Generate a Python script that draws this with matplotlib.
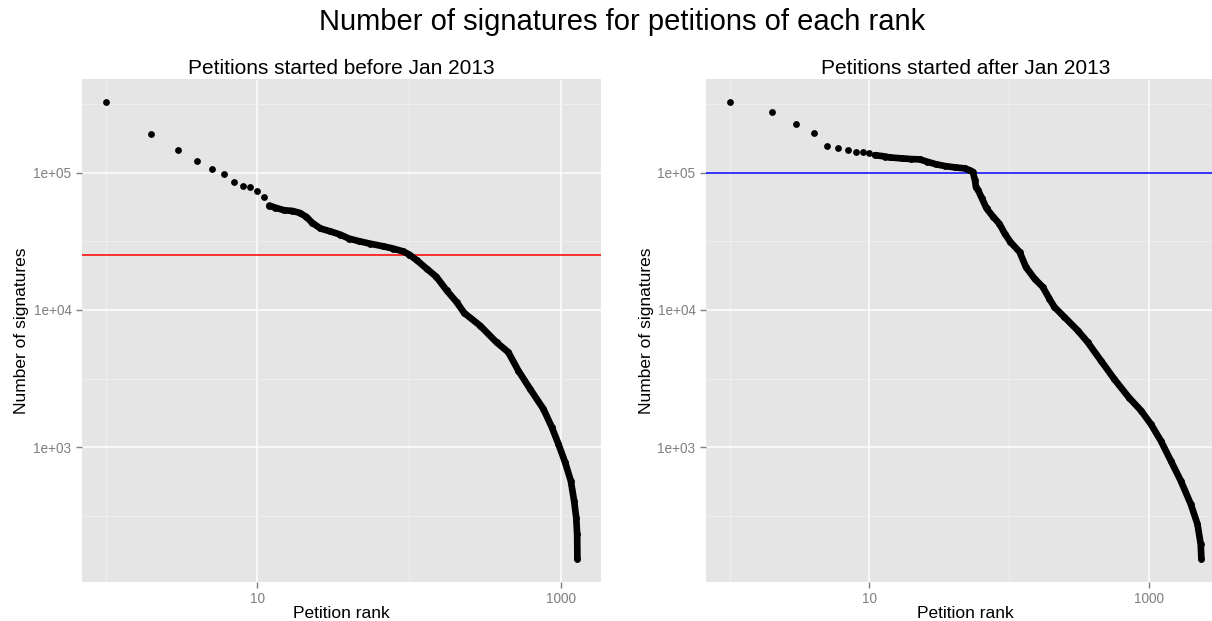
import numpy as np
import matplotlib
matplotlib.use("Agg")
import matplotlib.pyplot as plt
from matplotlib.ticker import FixedLocator, FixedFormatter, NullFormatter

plt.rcParams['font.family'] = ['Liberation Sans', 'DejaVu Sans']

# ---------------- data ----------------
main_title = "Number of signatures for petitions of each rank"
left_title = "Petitions started before Jan 2013"
right_title = "Petitions started after Jan 2013"
x_label = "Petition rank"
y_label = "Number of signatures"

left_rank = [1, 2, 3, 4, 5, 6, 7, 8, 9, 10, 11,
             12, 13, 15, 17, 19, 21, 23, 26, 30, 35, 40, 47, 55, 67, 78, 91,
             100, 112, 130, 151, 176, 205, 230, 292, 376, 449, 522, 624, 764,
             868, 960, 1063, 1158, 1218, 1257, 1275, 1280]
left_sig = [325000, 191000, 146000, 121000, 106000, 98000, 85000, 80000, 78000, 73000, 66000,
            57600, 55700, 53200, 52600, 50900, 47600, 43000, 39200, 37400, 35400, 33100,
            31600, 30400, 29100, 28000, 26700, 25300, 23000, 20000, 17400, 13900, 11400,
            9500, 7700, 5800, 4920, 3620, 2660, 1900, 1400, 1055, 774, 569, 406, 307, 232, 153]
left_threshold = 25000

right_rank = [1, 2, 3, 4, 5, 6, 7, 8, 9, 10,
              11, 13, 14, 17, 20, 23, 26, 30, 35, 41, 48, 52, 55, 57, 58, 60,
              64, 69, 77, 85, 93, 102, 119, 132, 152, 174, 194, 211, 249, 310,
              365, 454, 565, 720, 878, 1033, 1218, 1437, 1693, 1995, 2228, 2351, 2377]
right_sig = [325000, 277000, 227000, 195000, 157000, 151000, 145000, 142000, 141000, 140000,
             134000, 131000, 129000, 127000, 125500, 124800, 120000, 115000, 111500, 109200,
             107400, 104300, 101400, 88000, 78000, 74500,
             64800, 54800, 47600, 42600, 36000, 31300, 26400, 20500, 16900, 14700, 12100,
             10480, 8860, 7080, 5820, 4270, 3140, 2300, 1850, 1475, 1115, 796, 569, 385,
             275, 196, 153]
right_threshold = 100000

x_ticks = [10, 1000]
x_tick_labels = ["10", "1000"]
x_minor = [1, 100, 10000]
y_ticks = [1e3, 1e4, 1e5]
y_tick_labels = ["1e+03", "1e+04", "1e+05"]
y_minor = [10 ** 2.5, 10 ** 3.5, 10 ** 4.5, 10 ** 5.5]

# ---------------- layout ----------------
W, H = 1212, 621
fig = plt.figure(figsize=(W / 100, H / 100), dpi=100)


def rect(x0, y0, x1, y1):
    return [x0 / W, 1 - y1 / H, (x1 - x0) / W, (y1 - y0) / H]


GREY50 = "#7F7F7F"
PANEL = "#E5E5E5"


def panel(ax, ranks, sigs, dense_from, hval, hcolor):
    ranks = np.asarray(ranks, float)
    sigs = np.asarray(sigs, float)
    ax.set_facecolor(PANEL)
    for s in ax.spines.values():
        s.set_visible(False)
    ax.set_xscale('log')
    ax.set_yscale('log')
    lx = np.log10(ranks)
    ly = np.log10(sigs)
    ex = 0.05 * (lx.max() - lx.min())
    ey = 0.05 * (ly.max() - ly.min())
    ax.set_xlim(10 ** (lx.min() - ex), 10 ** (lx.max() + ex))
    ax.set_ylim(10 ** (ly.min() - ey), 10 ** (ly.max() + ey))

    ax.xaxis.set_major_locator(FixedLocator(x_ticks))
    ax.xaxis.set_major_formatter(FixedFormatter(x_tick_labels))
    ax.xaxis.set_minor_locator(FixedLocator(x_minor))
    ax.xaxis.set_minor_formatter(NullFormatter())
    ax.yaxis.set_major_locator(FixedLocator(y_ticks))
    ax.yaxis.set_major_formatter(FixedFormatter(y_tick_labels))
    ax.yaxis.set_minor_locator(FixedLocator(y_minor))
    ax.yaxis.set_minor_formatter(NullFormatter())

    ax.tick_params(which='major', length=4, width=1.0, color=GREY50,
                   labelcolor=GREY50, labelsize=9.8, pad=3.5)
    ax.tick_params(which='minor', length=0)
    ax.grid(which='major', color='white', lw=1.1)
    ax.grid(which='minor', color='#F2F2F2', lw=0.55)
    ax.set_axisbelow(True)

    ax.axhline(hval, color=hcolor, lw=1.1, zorder=2)
    m = ranks >= dense_from
    ax.plot(ranks[m], sigs[m], color='black', lw=4.8,
            solid_capstyle='round', solid_joinstyle='round', zorder=3)
    ax.plot(ranks, sigs, 'o', color='black', ms=4.9, mew=0, zorder=4)


ax1 = fig.add_axes(rect(82, 79.5, 601, 582))
ax2 = fig.add_axes(rect(706, 79.5, 1225, 582))
panel(ax1, left_rank, left_sig, 12, left_threshold, 'red')
panel(ax2, right_rank, right_sig, 11, right_threshold, 'blue')

# titles and labels
fig.text(622 / W, 1 - 22 / H, main_title,
         ha='center', va='center', fontsize=21, color='black')
for x0, x1, t in [(82, 601, left_title), (706, 1225, right_title)]:
    cx = (x0 + x1) / 2
    fig.text(cx / W, 1 - 68 / H, t, ha='center', va='center', fontsize=15, color='black')
    fig.text(cx / W, 1 - 613 / H, x_label, ha='center', va='center', fontsize=12.5, color='black')
    fig.text((x0 - 60) / W, 1 - 331 / H, y_label, ha='center', va='center',
             rotation=90, fontsize=12.5, color='black')

fig.savefig("out.png", dpi=100)
